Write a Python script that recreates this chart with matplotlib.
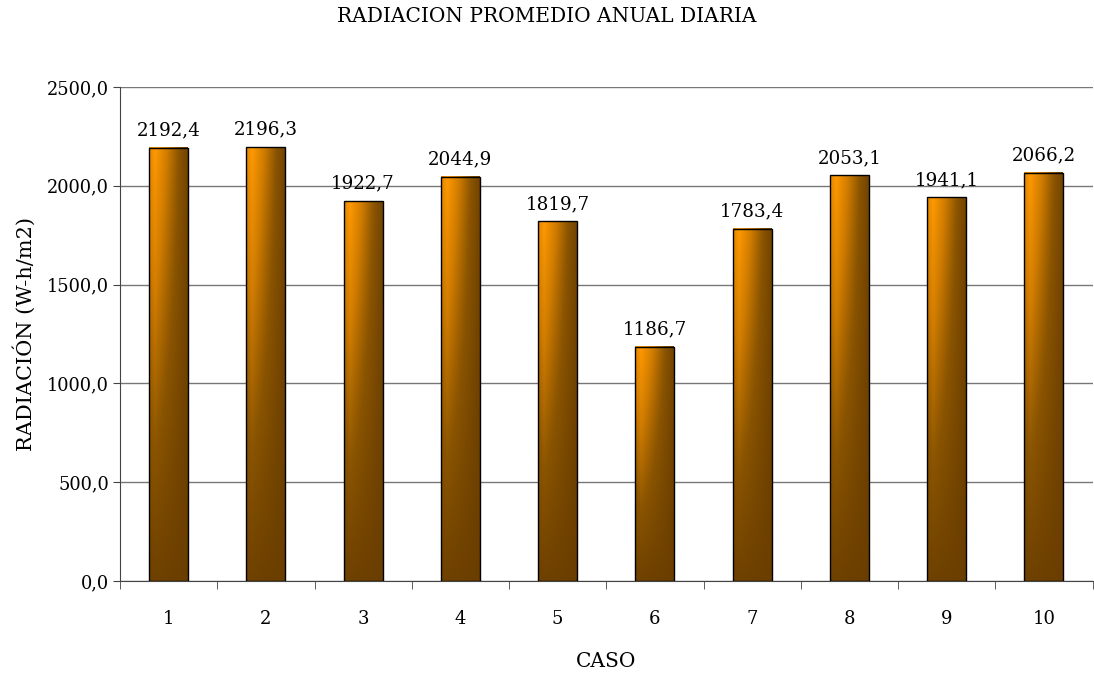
import matplotlib.pyplot as plt
import numpy as np
from matplotlib.colors import LinearSegmentedColormap

casos = ["1", "2", "3", "4", "5", "6", "7", "8", "9", "10"]
radiacion = [2192.4, 2196.3, 1922.7, 2044.9, 1819.7, 1186.7, 1783.4, 2053.1, 1941.1, 2066.2]
y_ticks = [0, 500, 1000, 1500, 2000, 2500]

plt.rcParams["font.family"] = ["DejaVu Serif"]

fig = plt.figure(figsize=(10.94, 6.77), dpi=100)
ax = fig.add_axes([0.1097, 0.1418, 0.889, 0.7297])

x = np.arange(len(casos))
width = 0.40
bars = ax.bar(x, radiacion, width=width, color="none", edgecolor="black", linewidth=1.0, zorder=3)

# degradado: naranja arriba a la izquierda, marron oscuro abajo y a la derecha
cmap = LinearSegmentedColormap.from_list("naranja", ["#ff9900", "#d07c00", "#8a5400", "#6a3e00"])
nx, ny = 60, 200
h = np.linspace(0, 1, nx)
h = np.where(h < 0.15, (0.15 - h) * 1.5, (h - 0.15) / 0.85)
v = np.linspace(0, 1, ny)[:, None]
for bar in bars:
    x0, w, top = bar.get_x(), bar.get_width(), bar.get_height()
    t = 1 - (1 - 0.9 * h[None, :]) * (1 - 0.95 * v)
    ax.imshow(t, cmap=cmap, vmin=0, vmax=1, extent=[x0, x0 + w, 0, top],
              origin="upper", aspect="auto", zorder=2, interpolation="bilinear")

for xi, val in zip(x, radiacion):
    ax.annotate(f"{val:.1f}".replace(".", ","), (xi, val), xytext=(0, 6),
                textcoords="offset points", ha="center", va="bottom", fontsize=13.2)

ax.set_xlim(-0.5, len(casos) - 0.5)
ax.set_ylim(0, 2500)
ax.set_yticks(y_ticks)
ax.set_yticklabels([f"{v:.1f}".replace(".", ",") for v in y_ticks], fontsize=12.8)
ax.set_xticks(x)
ax.set_xticklabels(casos, fontsize=13)
ax.set_xticks(np.arange(len(casos) + 1) - 0.5, minor=True)
ax.tick_params(axis="x", which="major", length=0, pad=21)
ax.tick_params(axis="x", which="minor", length=6, direction="out", color="#444444")
ax.tick_params(axis="y", length=5, direction="out", color="#444444", pad=3)

ax.grid(axis="y", color="#777777", linewidth=1.0, zorder=1)
ax.set_axisbelow(True)
for side in ["top", "right"]:
    ax.spines[side].set_visible(False)
ax.spines["left"].set_color("#444444")
ax.spines["bottom"].set_color("#444444")

ax.set_xlabel("CASO", fontsize=14.5, labelpad=17)
ax.set_ylabel("RADIACIÓN (W-h/m2)", fontsize=15, labelpad=8)
fig.suptitle("RADIACION PROMEDIO ANUAL DIARIA", fontsize=14.5, y=0.99)

fig.savefig("out.png", dpi=100)
